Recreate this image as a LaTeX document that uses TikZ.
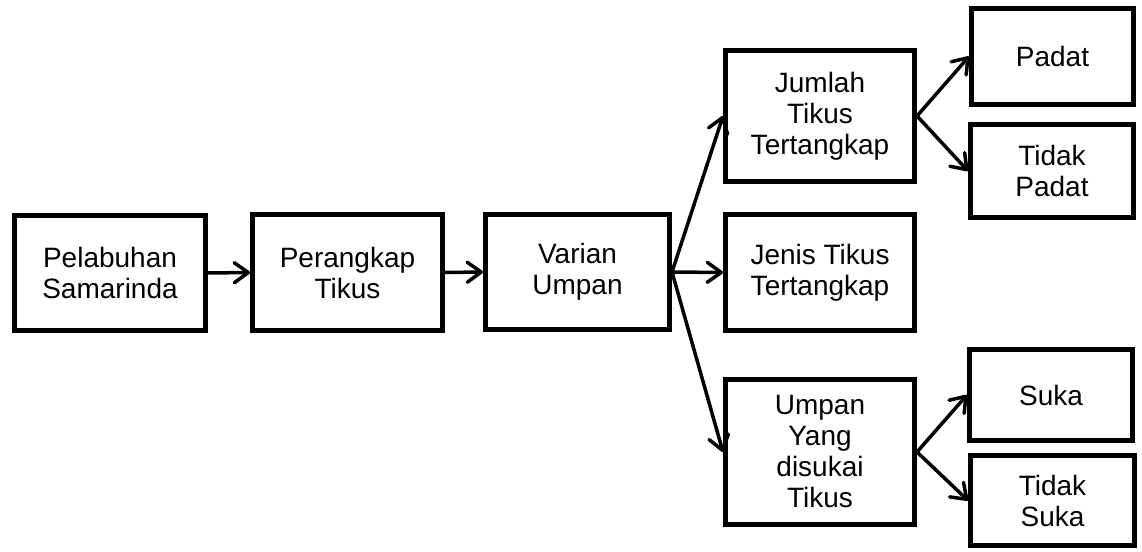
\documentclass[tikz,border=0pt]{standalone}
\usepackage{fontspec}
\setmainfont{Liberation Sans}
\usetikzlibrary{arrows.meta}
\begin{document}
\begin{tikzpicture}[x=1pt,y=1pt,
  box/.style={draw, line width=5pt, rectangle, inner sep=0pt, align=center,
    font=\fontsize{28}{31}\selectfont},
  conn/.style={line width=3.5pt, line cap=round, line join=round,
    -{Straight Barb[length=14pt,width=20pt,line cap=round,line join=round]}}]
\useasboundingbox (0,0) rectangle (1142,551);
\node[box, minimum width=191pt, minimum height=115pt] (A) at (110,278) {Pelabuhan\\Samarinda};
\node[box, minimum width=190pt, minimum height=116pt] (B) at (347.5,278.5) {Perangkap\\Tikus};
\node[box, minimum width=184pt, minimum height=115pt] (C) at (577.5,279) {Varian\\Umpan};
\node[box, minimum width=189pt, minimum height=131pt] (D) at (820,435) {Jumlah\\Tikus\\Tertangkap};
\node[box, minimum width=189pt, minimum height=116pt] (E) at (820,278.5) {Jenis Tikus\\Tertangkap};
\node[box, minimum width=189pt, minimum height=145pt] (F) at (820,99) {Umpan\\Yang\\disukai\\Tikus};
\node[box, minimum width=162pt, minimum height=96pt] (G) at (1052.5,494.5) {Padat};
\node[box, minimum width=163pt, minimum height=93pt] (H) at (1052,380) {Tidak\\Padat};
\node[box, minimum width=163pt, minimum height=91pt] (I) at (1051,156) {Suka};
\node[box, minimum width=164pt, minimum height=90pt] (J) at (1052.5,50.5) {Tidak\\Suka};
\draw[conn] (A.east) -- (B.west);
\draw[conn] (B.east) -- (C.west);
\draw[conn] (C.east) -- (D.west);
\draw[conn] (C.east) -- (E.west);
\draw[conn] (C.east) -- (F.west);
\draw[conn] (D.east) -- (G.west);
\draw[conn] (D.east) -- (H.west);
\draw[conn] (F.east) -- (I.west);
\draw[conn] (F.east) -- (J.west);
\end{tikzpicture}
\end{document}
